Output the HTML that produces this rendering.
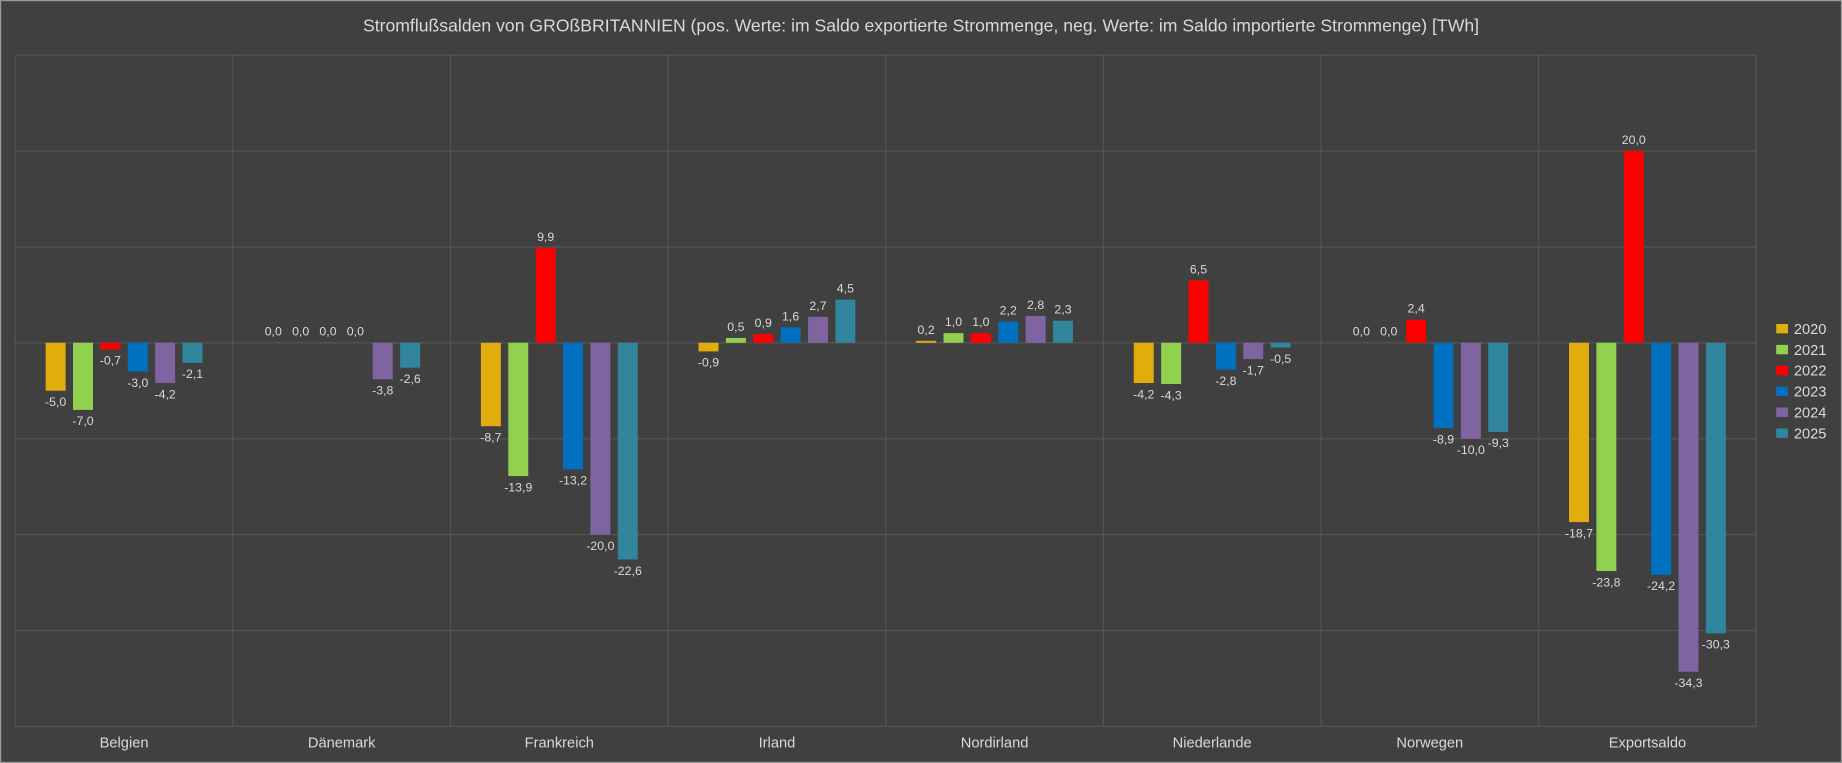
<!DOCTYPE html>
<html><head><meta charset="utf-8"><style>
html,body{margin:0;padding:0;background:#404040;}
svg{display:block;}
text{font-family:"Liberation Sans",sans-serif;}
</style></head><body>
<svg id="c" width="1842" height="763" viewBox="0 0 1568 650" preserveAspectRatio="none" xmlns="http://www.w3.org/2000/svg">
<rect x="0" y="0" width="1568" height="650" fill="#404040"/>
<rect x="0.5" y="0.5" width="1567" height="649" fill="none" stroke="#9a9a9a" stroke-width="1"/>
<text x="784" y="27" text-anchor="middle" font-size="15" fill="#d9d9d9">Stromflußsalden von GROßBRITANNIEN (pos. Werte: im Saldo exportierte Strommenge, neg. Werte: im Saldo importierte Strommenge) [TWh]</text>
<g id="g"></g>
</svg>
<script>
var g=document.getElementById('g');var ns='http://www.w3.org/2000/svg';
function el(t,a,txt){var e=document.createElementNS(ns,t);for(var k in a)e.setAttribute(k,a[k]);if(txt!=null)e.textContent=txt;g.appendChild(e);return e;}
var L=13,R=1495,T=47,B=619,Z=292,S=8.17;
for(var i=0;i<8;i++){var y=T+i*81.7;el('line',{x1:L,x2:R,y1:y,y2:y,stroke:'#555',"stroke-width":1});}
var cw=(R-L)/8;
for(var i=0;i<=8;i++){var x=L+i*cw;el('line',{x1:x,x2:x,y1:T,y2:B,stroke:'#555',"stroke-width":1});}
var cats=["Belgien","Dänemark","Frankreich","Irland","Nordirland","Niederlande","Norwegen","Exportsaldo"];
var data=[[-5.0,-7.0,-0.7,-3.0,-4.2,-2.1],[0,0,0,0,-3.8,-2.6],[-8.7,-13.9,9.9,-13.2,-20.0,-22.6],[-0.9,0.5,0.9,1.6,2.7,4.5],[0.2,1.0,1.0,2.2,2.8,2.3],[-4.2,-4.3,6.5,-2.8,-1.7,-0.5],[0,0,2.4,-8.9,-10.0,-9.3],[-18.7,-23.8,20.0,-24.2,-34.3,-30.3]];
var cols=["#E1AD0C","#92D050","#FF0000","#0070C0","#8064A2","#31859C"];
var yrs=["2020","2021","2022","2023","2024","2025"];
function fmt(v){return v.toFixed(1).replace('.',',');}
for(var c=0;c<8;c++){var cx=L+(c+0.5)*cw;
 el('text',{x:cx,y:637,"text-anchor":"middle","font-size":12.5,fill:'#d9d9d9'},cats[c]);
 for(var i=0;i<6;i++){var v=data[c][i];var bx=cx+(i-2.5)*23.3;var h=Math.abs(v)*S;
  var y=v>=0?Z-h:Z;
  if(h>0)el('rect',{x:bx-8.5,y:y,width:17,height:h,fill:cols[i]});
  if(c==1&&i>=4||c!=1||true){
   var ly=v>=0?Z-h-6:Z+h+13;
   el('text',{x:bx,y:ly,"text-anchor":"middle","font-size":10.5,fill:'#d9d9d9'},fmt(v));
  }
 }
}
for(var i=0;i<6;i++){var y=276+i*17.8;
 el('rect',{x:1512,y:y,width:10,height:8,fill:cols[i]});
 el('text',{x:1527,y:y+8.5,"font-size":12.5,fill:'#d9d9d9'},yrs[i]);}
</script>
</body></html>
